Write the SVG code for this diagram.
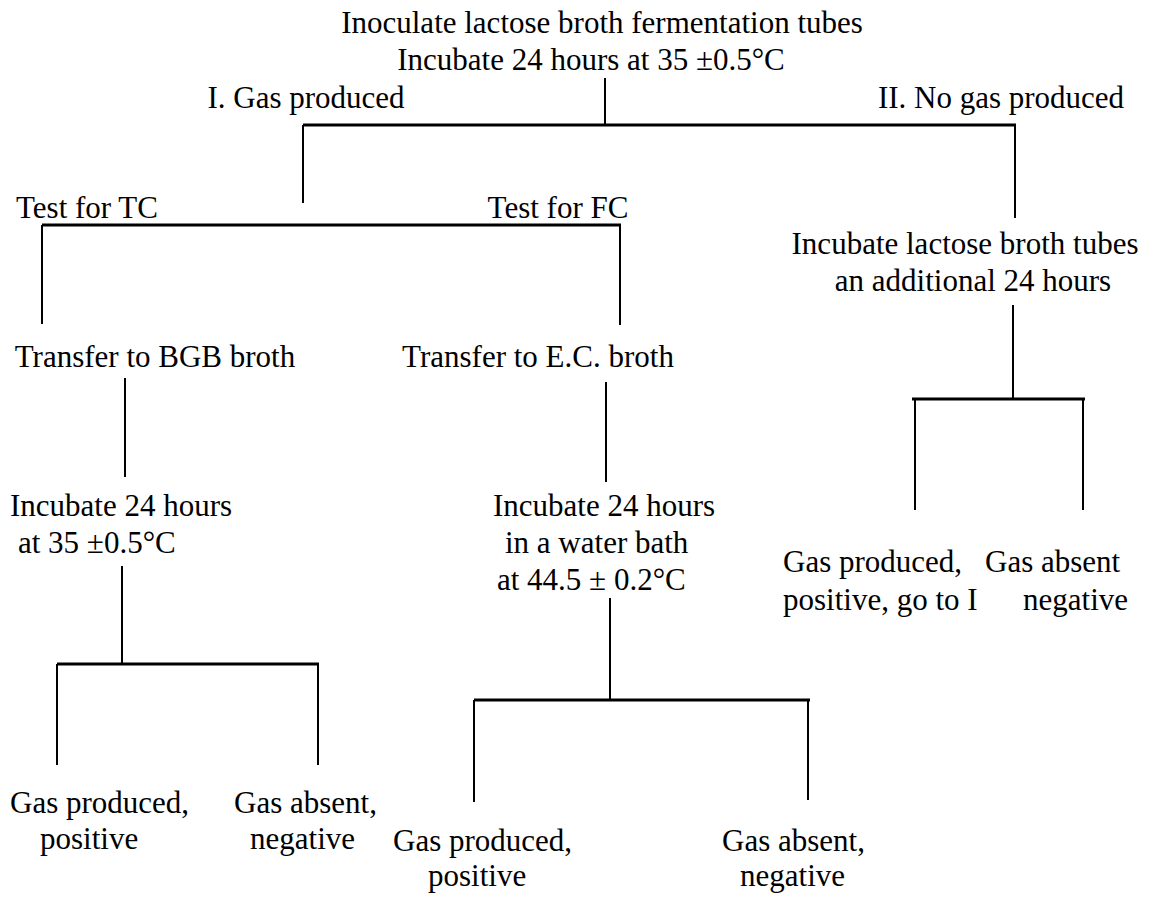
<svg xmlns="http://www.w3.org/2000/svg" width="1160" height="898" viewBox="0 0 1160 898">
<style>
text{font-family:"Liberation Serif","Times New Roman",serif;font-size:31px;fill:#000}
.m{text-anchor:middle}
.c line{stroke:#000;stroke-width:2}
.c line.h{stroke-width:3}
</style>
<rect width="1160" height="898" fill="#fff"/>
<g id="n-start"><text class="m" x="602" y="33">Inoculate lactose broth fermentation tubes</text><text class="m" x="591" y="70">Incubate 24 hours at 35 ±0.5°C</text></g>
<g id="n-gas"><text class="m" x="306" y="108">I. Gas produced</text></g>
<g id="n-nogas"><text class="m" x="1001" y="108">II. No gas produced</text></g>
<g id="n-tc"><text class="m" x="87" y="218">Test for TC</text></g>
<g id="n-fc"><text class="m" x="558" y="218">Test for FC</text></g>
<g id="n-bgb"><text class="m" x="155" y="367">Transfer to BGB broth</text></g>
<g id="n-ec"><text class="m" x="538" y="367">Transfer to E.C. broth</text></g>
<g id="n-incadd"><text class="m" x="965" y="254">Incubate lactose broth tubes</text><text class="m" x="973" y="291">an additional 24 hours</text></g>
<g id="n-inc35"><text x="10" y="516">Incubate 24 hours</text><text x="18" y="553">at 35 ±0.5°C</text></g>
<g id="n-inc44"><text x="493" y="516">Incubate 24 hours</text><text x="505" y="553">in a water bath</text><text x="497" y="590">at 44.5 ± 0.2°C</text></g>
<g id="n-tcpos"><text x="10" y="813">Gas produced,</text><text x="40" y="849">positive</text></g>
<g id="n-tcneg"><text x="234" y="813">Gas absent,</text><text x="250" y="849">negative</text></g>
<g id="n-fcpos"><text x="393" y="851">Gas produced,</text><text x="428" y="886">positive</text></g>
<g id="n-fcneg"><text x="722" y="851">Gas absent,</text><text x="740" y="886">negative</text></g>
<g id="n-rpos"><text x="783" y="572">Gas produced,</text><text x="783" y="610">positive, go to I</text></g>
<g id="n-rneg"><text x="985" y="572">Gas absent</text><text x="1023" y="610">negative</text></g>
<g id="connectors" class="c">
<line x1="605" y1="78" x2="605" y2="125"/>
<line class="h" x1="303" y1="125" x2="1016" y2="125"/>
<line x1="303" y1="125" x2="303" y2="203"/>
<line x1="1015" y1="125" x2="1015" y2="218"/>
<line class="h" x1="42" y1="225" x2="621" y2="225"/>
<line x1="42" y1="225" x2="42" y2="324"/>
<line x1="620" y1="225" x2="620" y2="325"/>
<line x1="125" y1="378" x2="125" y2="477"/>
<line x1="606" y1="382" x2="606" y2="482"/>
<line x1="122" y1="566" x2="122" y2="664"/>
<line class="h" x1="57" y1="664" x2="319" y2="664"/>
<line x1="57" y1="664" x2="57" y2="765"/>
<line x1="318" y1="664" x2="318" y2="765"/>
<line x1="610" y1="598" x2="610" y2="700"/>
<line class="h" x1="474" y1="700" x2="810" y2="700"/>
<line x1="474" y1="700" x2="474" y2="802"/>
<line x1="808" y1="700" x2="808" y2="800"/>
<line x1="1013" y1="305" x2="1013" y2="399"/>
<line class="h" x1="912" y1="399" x2="1085" y2="399"/>
<line x1="915" y1="399" x2="915" y2="510"/>
<line x1="1083" y1="399" x2="1083" y2="510"/>
</g>
</svg>
